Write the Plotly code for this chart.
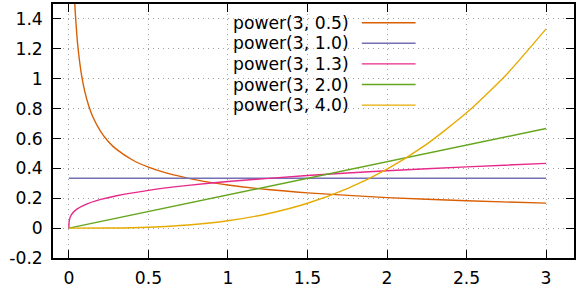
import plotly.graph_objects as go

# ---- data ----
names = ["power(3, 0.5)", "power(3, 1.0)", "power(3, 1.3)", "power(3, 2.0)", "power(3, 4.0)"]
colors = ["#d95f02", "#7570b3", "#e7298a", "#66a61e", "#e6ab02"]

x_a05 = [0.03, 0.037, 0.04, 0.05, 0.06, 0.08, 0.1, 0.125, 0.15, 0.2, 0.25, 0.3, 0.4, 0.5,
         0.6, 0.8, 1.0, 1.25, 1.5, 2.0, 2.5, 3.0]
y_a05 = [1.667, 1.501, 1.443, 1.291, 1.179, 1.021, 0.913, 0.817, 0.745, 0.646, 0.577, 0.527,
         0.456, 0.408, 0.373, 0.323, 0.289, 0.258, 0.236, 0.204, 0.183, 0.167]

x_a10 = [0.0, 3.0]
y_a10 = [0.3333, 0.3333]

x_a13 = [0.0, 0.001, 0.005, 0.01, 0.02, 0.05, 0.1, 0.2, 0.3, 0.5, 0.75, 1.0, 1.5, 2.0, 2.5, 3.0]
y_a13 = [0.0, 0.039, 0.064, 0.078, 0.096, 0.127, 0.156, 0.192, 0.217, 0.253, 0.286, 0.312,
         0.352, 0.384, 0.410, 0.433]

x_a20 = [0.0, 3.0]
y_a20 = [0.0, 0.6667]

x_a40 = [0.0, 0.25, 0.5, 0.75, 1.0, 1.25, 1.5, 1.75, 2.0, 2.25, 2.5, 2.75, 3.0]
y_a40 = [0.0, 0.0008, 0.0062, 0.0208, 0.0494, 0.0965, 0.1667, 0.2647, 0.3951, 0.5625,
         0.7716, 1.0270, 1.3333]

x_ticks = [0, 0.5, 1, 1.5, 2, 2.5, 3]
x_tick_text = ["0", "0.5", "1", "1.5", "2", "2.5", "3"]
y_ticks = [-0.2, 0, 0.2, 0.4, 0.6, 0.8, 1, 1.2, 1.4]
y_tick_text = ["-0.2", "0", "0.2", "0.4", "0.6", "0.8", "1", "1.2", "1.4"]

series = [(x_a05, y_a05), (x_a10, y_a10), (x_a13, y_a13), (x_a20, y_a20), (x_a40, y_a40)]

FONT = "DejaVu Sans"
FS = 17.2
fig = go.Figure()
for (xs, ys), name, col in zip(series, names, colors):
    fig.add_trace(go.Scatter(x=xs, y=ys, mode="lines", name=name,
                             line=dict(color=col, width=1.4, shape="spline", smoothing=0.6),
                             showlegend=False))

# gnuplot-style key: text right-aligned, sample line on the right
W, H = 577, 291
ml, mr, mt, mb = 53, 1, 4, 33
pw, ph = W - ml - mr, H - mt - mb
shapes, annots = [], []
for i, (name, col) in enumerate(zip(names, colors)):
    ypx = 22.7 + i * 20.6
    yp = (H - mb - ypx) / ph
    annots.append(dict(xref="paper", yref="paper", x=(352 - ml) / pw, y=yp, text=name,
                       showarrow=False, xanchor="right", yanchor="middle",
                       font=dict(family=FONT, size=FS, color="black")))
    shapes.append(dict(type="line", xref="paper", yref="paper",
                       x0=(363 - ml) / pw, x1=(417 - ml) / pw, y0=yp, y1=yp,
                       line=dict(color=col, width=1.4)))

axis_common = dict(showline=True, linecolor="black", linewidth=1.5, mirror="ticks",
                   ticks="inside", ticklen=8, tickcolor="black", tickwidth=1,
                   showgrid=True, gridcolor="#a0a0a0", gridwidth=1, griddash="1px,4px",
                   zeroline=False, tickfont=dict(family=FONT, size=FS, color="black"))

fig.update_layout(
    width=W, height=H, margin=dict(l=ml, r=mr, t=mt, b=mb),
    paper_bgcolor="white", plot_bgcolor="white",
    xaxis=dict(range=[-0.1, 3.1755], tickvals=x_ticks, ticktext=x_tick_text,
               ticklabelstandoff=4, **axis_common),
    yaxis=dict(range=[-0.2, 1.5], tickvals=y_ticks, ticktext=y_tick_text,
               ticklabelstandoff=5, **axis_common),
    shapes=shapes, annotations=annots, showlegend=False,
)
fig.write_html("out.html", config={"displayModeBar": False},
               post_script="document.body.style.margin='0px';")
